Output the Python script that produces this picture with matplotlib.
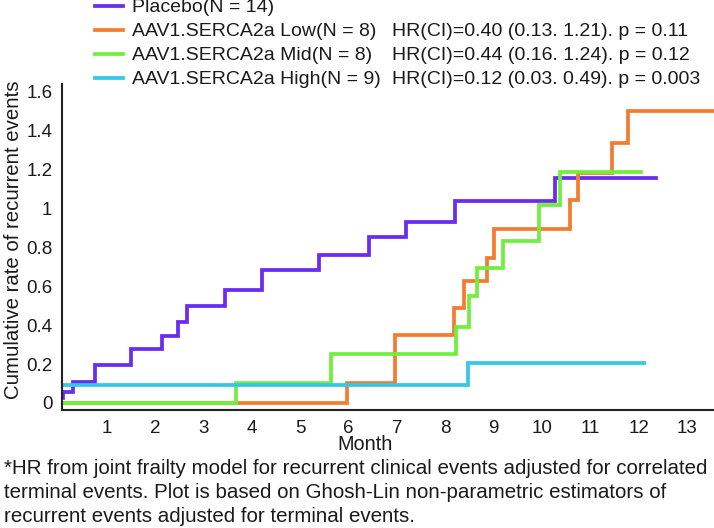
import matplotlib
matplotlib.use("Agg")
import matplotlib.pyplot as plt
from matplotlib.lines import Line2D

plt.rcParams['font.family'] = ['Liberation Sans', 'DejaVu Sans']

# ---------------- data ----------------
series_names = ["Placebo(N = 14)", "AAV1.SERCA2a Low(N = 8)",
                "AAV1.SERCA2a Mid(N = 8)", "AAV1.SERCA2a High(N = 9)"]
hr_texts = ["", "HR(CI)=0.40 (0.13. 1.21). p = 0.11",
            "HR(CI)=0.44 (0.16. 1.24). p = 0.12",
            "HR(CI)=0.12 (0.03. 0.49). p = 0.003"]
colors = ["#6A2BF2", "#F47C30", "#72EE3E", "#35C8E6"]

placebo_t = [0.08, 0.11, 0.31, 0.76, 1.51, 2.15, 2.48, 2.67, 3.45, 4.21, 5.39, 6.43, 7.19, 8.20, 10.27, 12.36]
placebo_y = [0.025, 0.055, 0.11, 0.196, 0.278, 0.345, 0.418, 0.50, 0.579, 0.682, 0.763, 0.852, 0.929, 1.036, 1.158, 1.158]

low_t = [0.08, 5.96, 6.96, 8.17, 8.39, 8.86, 9.01, 10.58, 10.74, 11.44, 11.78, 13.6]
low_y = [0.0, 0.105, 0.35, 0.488, 0.625, 0.746, 0.895, 1.043, 1.18, 1.339, 1.50, 1.50]

mid_t = [0.08, 3.68, 5.64, 8.22, 8.49, 8.65, 9.19, 9.94, 10.37, 12.04]
mid_y = [0.0, 0.105, 0.253, 0.393, 0.548, 0.696, 0.835, 1.02, 1.187, 1.187]

high_t = [0.08, 8.47, 12.11]
high_y = [0.09, 0.208, 0.208]

x_ticks = list(range(1, 14))
y_ticks = [0, 0.2, 0.4, 0.6, 0.8, 1.0, 1.2, 1.4, 1.6]
y_tick_labels = ["0", "0.2", "0.4", "0.6", "0.8", "1", "1.2", "1.4", "1.6"]

footnote = ["*HR from joint frailty model for recurrent clinical events adjusted for correlated",
            "terminal events. Plot is based on Ghosh-Lin non-parametric estimators of",
            "recurrent events adjusted for terminal events."]

# ---------------- figure ----------------
W, H = 714, 528
fig = plt.figure(figsize=(W / 100, H / 100), dpi=100)
ax = fig.add_axes([62 / W, 1 - 410 / H, (W - 62) / W, (410 - 84) / H])

FS = 14
FS_TICK = 13.5
FS_NOTE = 14.8
FS_YLAB = 14.7
TXT = '#1a1a1a'
lw = 2.7
for t, y, c in zip([placebo_t, low_t, mid_t, high_t],
                   [placebo_y, low_y, mid_y, high_y], colors):
    ax.step(t, y, where='post', color=c, lw=lw, solid_joinstyle='miter')

ax.set_xlim(0.083, 13.55)
ax.set_ylim(-0.036, 1.64)
ax.set_xticks(x_ticks)
ax.set_xticklabels([str(v) for v in x_ticks])
ax.set_yticks(y_ticks)
ax.set_yticklabels(y_tick_labels)
ax.tick_params(length=0, labelsize=FS_TICK, colors=TXT)
ax.tick_params(axis='x', pad=7)
ax.tick_params(axis='y', pad=7)
for s in ['top', 'right']:
    ax.spines[s].set_visible(False)
for s in ['left', 'bottom']:
    ax.spines[s].set_linewidth(1.5)
    ax.spines[s].set_color('#222222')

fig.text(365 / W, 1 - 445 / H, "Month", ha='center', va='center', fontsize=FS + 0.3, color=TXT)
fig.text(14 / W, 1 - 240 / H, "Cumulative rate of recurrent events", rotation=90,
         ha='center', va='center', fontsize=FS_YLAB, color=TXT)

# legend (manual)
rows = [6, 30, 54, 78]
for name, hr, c, r in zip(series_names, hr_texts, colors, rows):
    fig.add_artist(Line2D([95 / W, 123 / W], [1 - r / H, 1 - r / H], color=c, lw=2.7,
                          transform=fig.transFigure))
    fig.text(132 / W, 1 - (r + 1) / H, name, ha='left', va='center', fontsize=FS, color=TXT)
    if hr:
        fig.text(392 / W, 1 - (r + 1) / H, hr, ha='left', va='center', fontsize=FS, color=TXT)

for line, yy in zip(footnote, [468, 493, 517]):
    fig.text(4 / W, 1 - yy / H, line, ha='left', va='center', fontsize=FS_NOTE, color=TXT)

fig.savefig("out.png", dpi=100)
